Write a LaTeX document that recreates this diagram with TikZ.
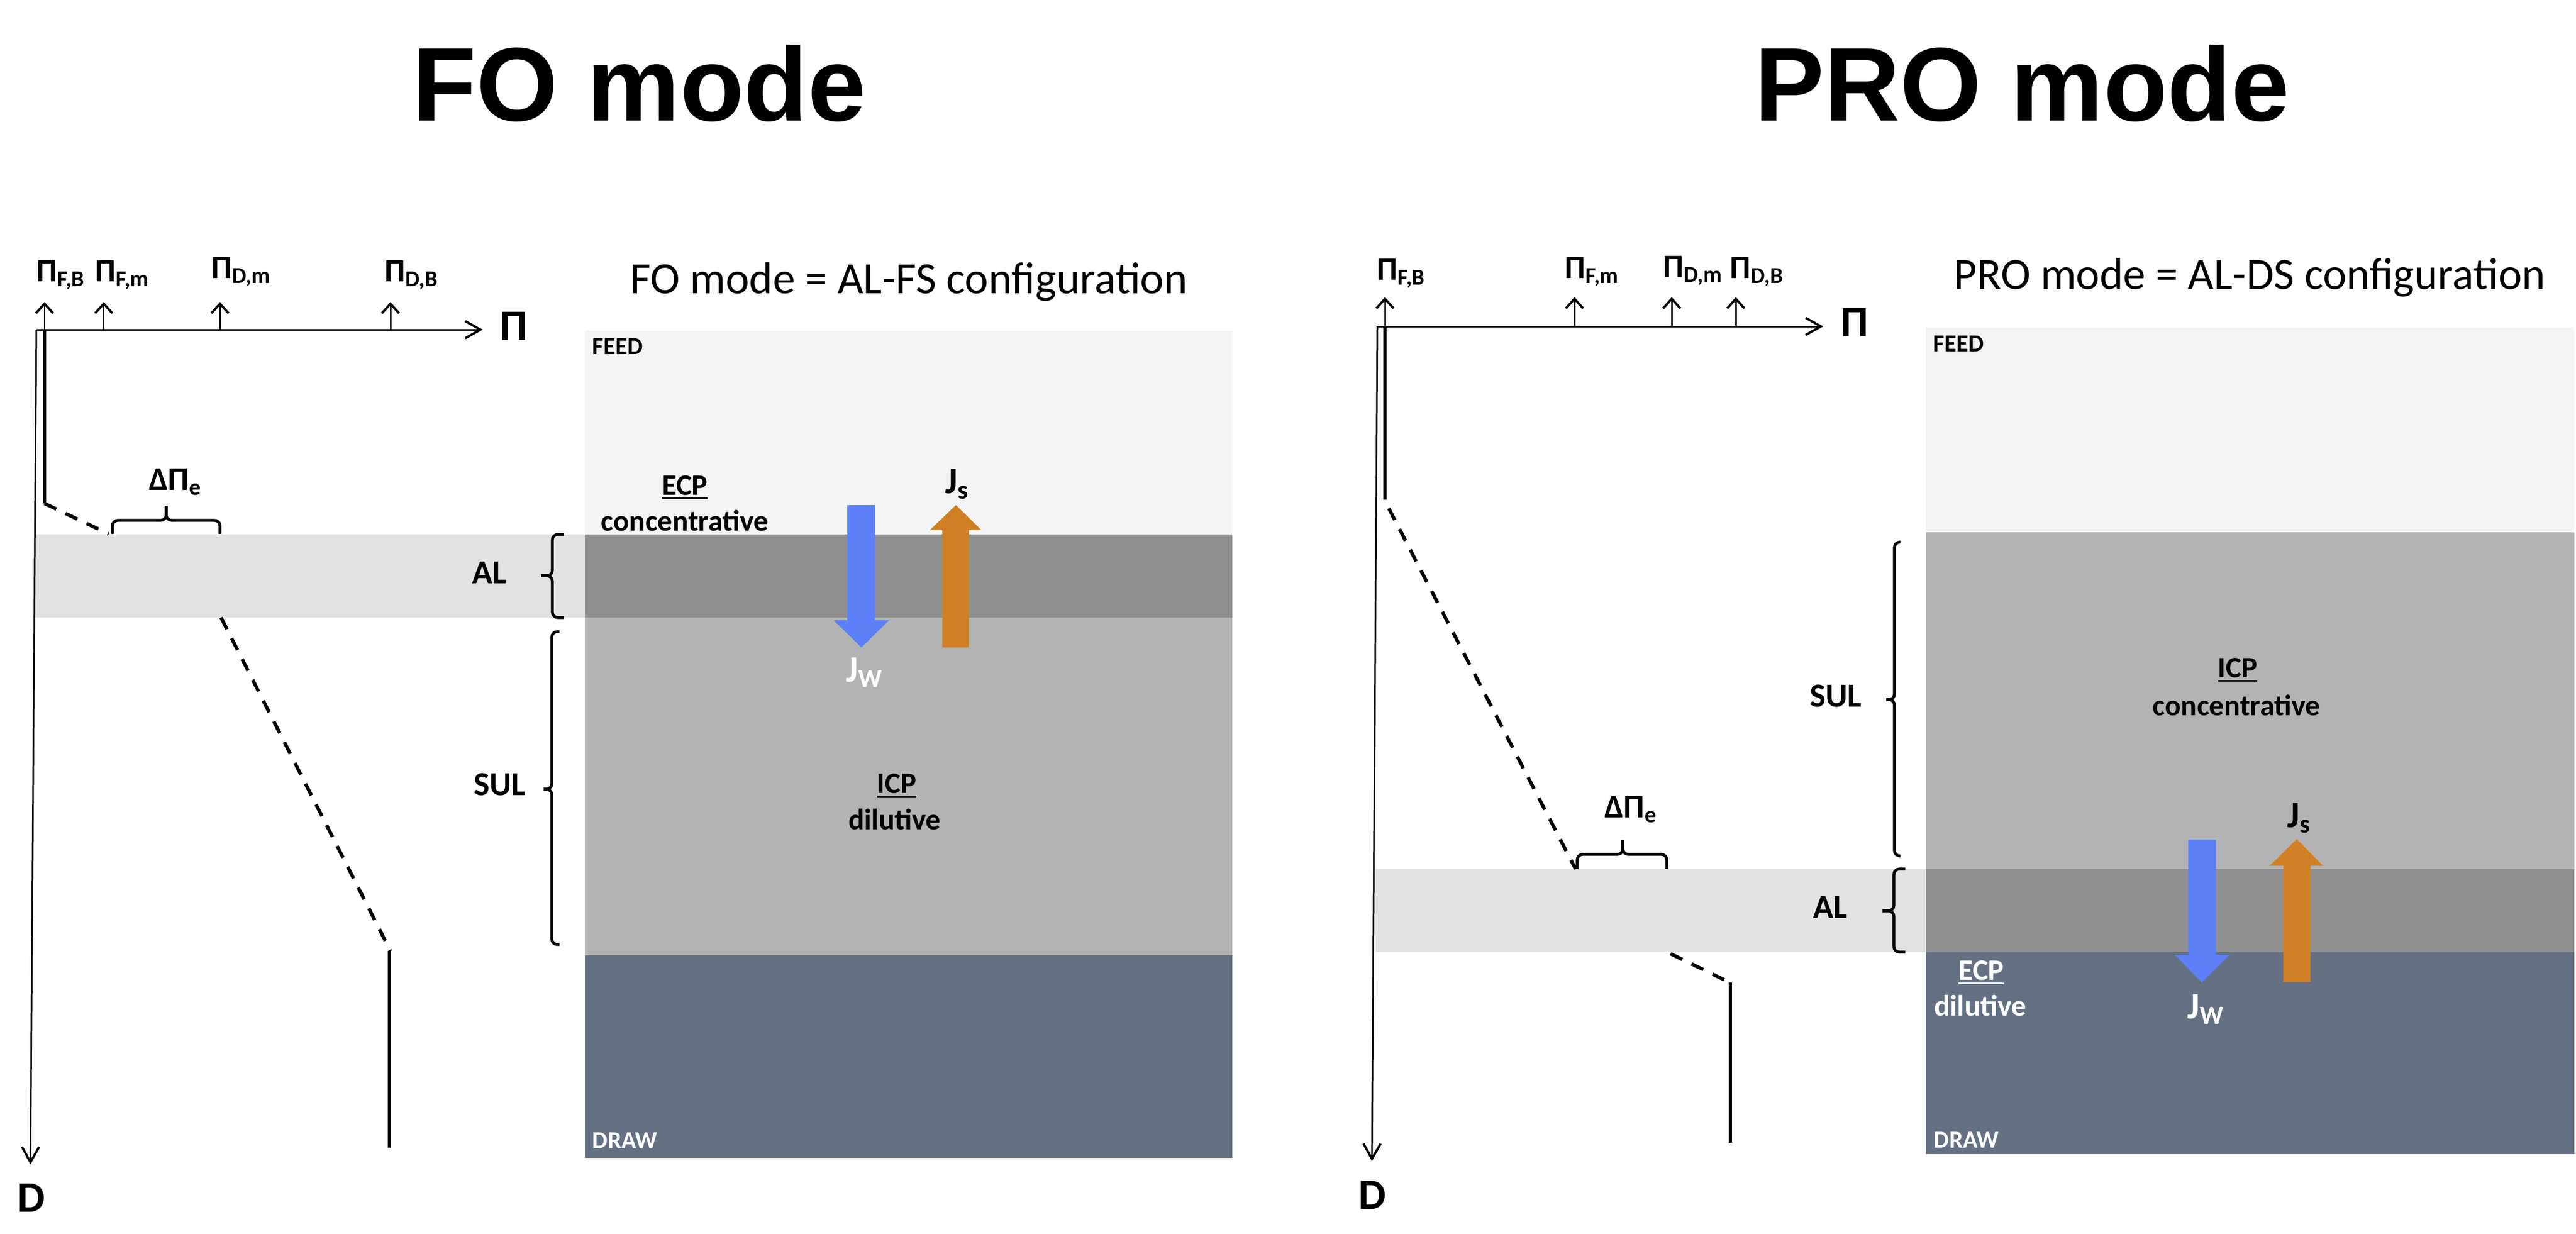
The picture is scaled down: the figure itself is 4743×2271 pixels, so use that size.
\documentclass[tikz,border=0pt]{standalone}
\usepackage{fontspec}
\setmainfont{Carlito}
\newfontfamily\headfont{Liberation Sans}
\usepackage{xcolor}
\usetikzlibrary{arrows.meta}

\definecolor{feedcol}{HTML}{F3F4F6}
\definecolor{alcol}{HTML}{8F8F8F}
\definecolor{sulcol}{HTML}{B3B3B3}
\definecolor{drawcol}{HTML}{657183}
\definecolor{albandcol}{HTML}{E2E2E2}
\definecolor{jwcol}{HTML}{5B80F8}
\definecolor{jscol}{HTML}{D08024}

% underline drawn as a rule below the word
\newcommand\ulword[1]{\setbox0\hbox{#1}\rlap{\rule[-2.4pt]{\wd0}{0.9pt}}\box0}

\tikzset{
  modetitle/.style={font=\headfont\bfseries\fontsize{54.8}{60}\selectfont, inner sep=0pt},
  configlab/.style={font=\fontsize{23.4}{27}\selectfont, inner sep=0pt},
  axlab/.style={font=\bfseries\fontsize{22.8}{26}\selectfont, inner sep=0pt},
  ticklab/.style={font=\bfseries\fontsize{17}{20}\selectfont, inner sep=0pt},
  layerlab/.style={font=\bfseries\fontsize{17.6}{20}\selectfont, inner sep=0pt},
  zonelab/.style={font=\bfseries\fontsize{12.8}{15}\selectfont, inner sep=0pt},
  cplab/.style={font=\bfseries\fontsize{15.5}{18}\selectfont, inner sep=0pt},
  dplab/.style={font=\bfseries\fontsize{17.3}{20}\selectfont, inner sep=0pt},
  fluxlab/.style={font=\bfseries\fontsize{19.5}{22}\selectfont, inner sep=0pt},
  axisline/.style={line width=0.85pt, -{Straight Barb[length=8pt,width=9pt,line width=1.2pt]}},
  tick/.style={line width=0.85pt, -{Straight Barb[length=5pt,width=9pt,line width=1.2pt]}},
  profile/.style={line width=1.8pt},
  profdash/.style={line width=1.8pt, dash pattern=on 6.8pt off 5.4pt},
  bracket/.style={line width=1.5pt, rounded corners=1mm},
}

\begin{document}
\begin{tikzpicture}[x=0.01cm, y=-0.01cm]
\useasboundingbox (0,0) rectangle (4743,2271);

% titles
\node[modetitle, anchor=base west] (foTitle) at (759,222) {FO mode};
\node[modetitle, anchor=base west] (proTitle) at (3230,222) {PRO mode};

%%%%%%%% FO mode %%%%%%%%
% layers
\fill[albandcol] (64,984) rectangle (1077,1137);
\fill[feedcol] (1077,609) rectangle (2269,984);
\fill[alcol] (1077,984) rectangle (2269,1137);
\fill[sulcol] (1077,1137) rectangle (2269,1759);
\fill[drawcol] (1077,1759) rectangle (2269,2132);

% axes
\coordinate (foO) at (67,607);
\draw[axisline] (foO) -- (889,607) coordinate (foPi);
\draw[axisline] (foO) -- (56,2144) coordinate (foD);
\node[axlab] (foPiLab) at (946,600) {Π};
\node[axlab] (foDLab) at (58,2205) {D};

% ticks
\foreach \x in {82,191,405,719}
    \draw[tick] (\x,607) -- ++(0,-51);
\node[ticklab, anchor=base west] (foFB) at (67,518) {Π\textsubscript{F,B}};
\node[ticklab, anchor=base west] (foFm) at (175,518) {Π\textsubscript{F,m}};
\node[ticklab, anchor=base west] (foDm) at (389,512) {Π\textsubscript{D,m}};
\node[ticklab, anchor=base west] (foDB) at (708,518) {Π\textsubscript{D,B}};

% profile
\draw[profile] (82,607) -- (82,927);
\draw[profdash] (82,927) -- (200,983);
\draw[bracket] (207,983) -- (207,958) -- (306,958) -- (306,931);
\draw[bracket] (306,931) -- (306,958) -- (405,958) -- (405,983);
\node[dplab] (foDelta) at (323,887) {ΔΠ\textsubscript{e}};
\draw[profdash] (407,1137) -- (719,1751);
\draw[profile] (717,1751) -- (717,2113);

% layer braces
\draw[bracket] (1038,984) -- (1017,984) -- (1017,1060) -- (996,1060);
\draw[bracket] (996,1060) -- (1017,1060) -- (1017,1137) -- (1038,1137);
\node[layerlab] (foAL) at (901,1054) {AL};
\draw[bracket] (1030,1163) -- (1016,1163) -- (1016,1453) -- (1001,1453);
\draw[bracket] (1001,1453) -- (1016,1453) -- (1016,1739) -- (1030,1739);
\node[layerlab] (foSUL) at (920,1444) {SUL};

% fluxes
\fill[jwcol] (1560,930) -- (1611,930) -- (1611,1142) -- (1637,1142) -- (1586,1192) -- (1535,1142) -- (1560,1142) -- cycle;
\fill[jscol] (1735,1192) -- (1784,1192) -- (1784,976) -- (1807,976) -- (1760,930) -- (1712,976) -- (1735,976) -- cycle;
\node[fluxlab, anchor=base west] (foJs) at (1740,908) {J\textsubscript{s}};
\node[fluxlab, anchor=base west, text=white] (foJw) at (1557,1255) {J\textsubscript{W}};

% texts in the stack
\node[configlab, anchor=base west] (foConf) at (1160,540) {FO mode = AL-FS configuration};
\node[zonelab, anchor=base west] (foFeed) at (1090,652) {FEED};
\node[zonelab, anchor=base west, text=white] (foDraw) at (1090,2114) {DRAW};
\node[cplab, anchor=base] (foEcp) at (1261,911) {\ulword{ECP}};
\node[cplab, anchor=base] (foEcpType) at (1261,977) {concentrative};
\node[cplab, anchor=base] (foIcp) at (1651,1460) {\ulword{ICP}};
\node[cplab, anchor=base] (foIcpType) at (1647,1527) {dilutive};

%%%%%%%% PRO mode %%%%%%%%
% layers
\fill[albandcol] (2533,1600) rectangle (3546,1753);
\fill[feedcol] (3546,603) rectangle (4740,977);
\fill[sulcol] (3546,980) rectangle (4740,1600);
\fill[alcol] (3546,1600) rectangle (4740,1753);
\fill[drawcol] (3546,1753) rectangle (4740,2125);

% axes
\coordinate (proO) at (2536,601);
\draw[axisline] (proO) -- (3357,601) coordinate (proPi);
\draw[axisline] (proO) -- (2526,2138) coordinate (proD);
\node[axlab] (proPiLab) at (3415,593) {Π};
\node[axlab] (proDLab) at (2527,2200) {D};

% ticks
\foreach \x in {2550,2899,3078,3196}
    \draw[tick] (\x,601) -- ++(0,-54);
\node[ticklab, anchor=base west] (proFB) at (2535,515) {Π\textsubscript{F,B}};
\node[ticklab, anchor=base west] (proFm) at (2881,512) {Π\textsubscript{F,m}};
\node[ticklab, anchor=base west] (proDm) at (3062,510) {Π\textsubscript{D,m}};
\node[ticklab, anchor=base west] (proDB) at (3185,512) {Π\textsubscript{D,B}};

% profile
\draw[profile] (2550,601) -- (2550,920);
\draw[profdash] (2557,936) -- (2901,1600);
\draw[bracket] (2904,1600) -- (2904,1573) -- (2988,1573) -- (2988,1547);
\draw[bracket] (2988,1547) -- (2988,1573) -- (3069,1573) -- (3069,1600);
\node[dplab] (proDelta) at (3003,1490) {ΔΠ\textsubscript{e}};
\draw[profdash] (3076,1756) -- (3185,1809);
\draw[profile] (3186,1809) -- (3186,2104);

% layer braces
\draw[bracket] (3499,998) -- (3488,998) -- (3488,1288) -- (3473,1288);
\draw[bracket] (3473,1288) -- (3488,1288) -- (3488,1576) -- (3499,1576);
\node[layerlab] (proSUL) at (3380,1281) {SUL};
\draw[bracket] (3508,1600) -- (3487,1600) -- (3487,1677) -- (3466,1677);
\draw[bracket] (3466,1677) -- (3487,1677) -- (3487,1753) -- (3508,1753);
\node[layerlab] (proAL) at (3370,1670) {AL};

% fluxes
\fill[jwcol] (4029,1546) -- (4080,1546) -- (4080,1758) -- (4105,1758) -- (4054,1809) -- (4004,1758) -- (4029,1758) -- cycle;
\fill[jscol] (4204,1808) -- (4254,1808) -- (4254,1594) -- (4277,1594) -- (4229,1545) -- (4179,1594) -- (4204,1594) -- cycle;
\node[fluxlab, anchor=base west] (proJs) at (4211,1523) {J\textsubscript{s}};
\node[fluxlab, anchor=base west, text=white] (proJw) at (4027,1875) {J\textsubscript{W}};

% texts in the stack
\node[configlab, anchor=base west] (proConf) at (3597,532) {PRO mode = AL-DS configuration};
\node[zonelab, anchor=base west] (proFeed) at (3559,647) {FEED};
\node[zonelab, anchor=base west, text=white] (proDraw) at (3560,2113) {DRAW};
\node[cplab, anchor=base] (proIcp) at (4120,1247) {\ulword{ICP}};
\node[cplab, anchor=base] (proIcpType) at (4118,1317) {concentrative};
\node[cplab, anchor=base, text=white] (proEcp) at (3648,1804) {\ulword{ECP}};
\node[cplab, anchor=base, text=white] (proEcpType) at (3646,1870) {dilutive};

\end{tikzpicture}
\end{document}
